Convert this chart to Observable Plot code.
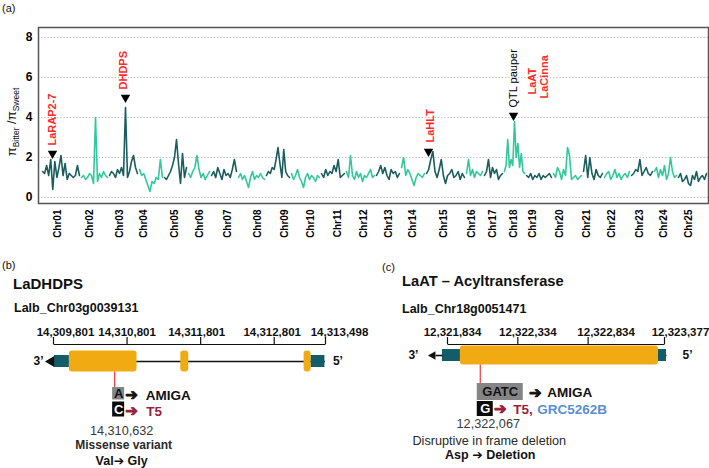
<!DOCTYPE html>
<html><head><meta charset="utf-8">
<script src="https://cdn.jsdelivr.net/npm/d3@7"></script>
<script src="https://cdn.jsdelivr.net/npm/@observablehq/plot@0.6"></script>
<style>
html,body{margin:0;padding:0;background:#fff;}
#page{position:relative;width:709px;height:468px;overflow:hidden;font-family:"Liberation Sans",Arial,Helvetica,sans-serif;color:#111;}
.abs{position:absolute;white-space:nowrap;line-height:1;}
#ylab{position:absolute;left:13px;top:122px;transform:translate(-50%,-50%) rotate(-90deg);font-size:13px;white-space:nowrap;line-height:1;}
#ylab sub{font-size:8.5px;vertical-align:-3px;}
svg{overflow:visible;}
</style></head>
<body><div id="page"></div>
<script>
// ---------------- DATA: panel (a) nucleotide-diversity ratio ----------------
const chromosomes = ["Chr01","Chr02","Chr03","Chr04","Chr05","Chr06","Chr07","Chr08","Chr09","Chr10","Chr11","Chr12","Chr13","Chr14","Chr15","Chr16","Chr17","Chr18","Chr19","Chr20","Chr21","Chr22","Chr23","Chr24","Chr25"];
const chrLengthMb = [39,28,30,25,24,23,27,28,25,30,25,30,25,25,40,18,20,22,27,30,21,27,23,24,30];
const chrTickMb = [16,48,78,102,133,158,186,216,243,269,296,322,347,371,402,430,451,472,491,518,545,570,598,622,647];
const yTicks = [0,2,4,6,8];

const ratioChr01 = [1.3,1.2,1.6,1.1,1.9,0.4,1.8,1.0,1.5,2.1,1.1,1.7,0.9,1.2,1.1,1.0,1.1,1.6,1.1];
const ratioChr02 = [1.0,1.1,0.9,1.0,1.2,1.1,0.7,4.0,0.8,1.2,1.0,1.3,1.1,1.0];
const ratioChr03 = [1.1,1.3,1.2,1.0,1.4,1.2,1.5,1.1,4.5,1.0,1.3,1.8,2.1,1.5,1.2];
const ratioChr04 = [1.4,1.1,1.2,0.9,0.6,0.3,0.8,0.7,1.0,0.9,1.9,1.0];
const ratioChr05 = [1.0,0.9,1.1,1.3,1.6,2.0,2.9,1.7,0.7,2.2,1.0,1.5];
const ratioChr06 = [1.2,1.0,1.3,1.5,2.1,1.4,1.0,1.2,0.9,1.1,1.3];
const ratioChr07 = [1.1,1.3,1.0,1.5,1.2,0.9,1.4,1.1,1.2,1.0,1.4,1.9,1.3];
const ratioChr08 = [1.0,1.2,0.9,1.1,0.8,0.5,1.0,1.3,0.9,1.1,1.0,1.2,1.0,0.9];
const ratioChr09 = [1.1,1.3,1.2,1.5,1.4,1.9,2.5,1.7,1.0,2.4,1.3,1.1,1.0];
const ratioChr10 = [1.2,0.9,1.1,1.4,1.0,0.8,0.5,1.0,1.2,0.9,1.1,1.0,0.8,1.1,1.0];
const ratioChr11 = [1.2,1.0,1.4,1.1,1.3,1.2,1.6,1.3,1.9,1.0,1.1,1.2];
const ratioChr12 = [1.3,1.0,2.1,1.1,0.9,1.3,1.0,1.2,0.8,1.1,1.0,1.2,1.4,1.0,1.1];
const ratioChr13 = [1.1,1.3,1.6,1.2,1.5,1.1,0.9,1.4,1.2,1.3,1.0,1.2];
const ratioChr14 = [1.5,2.0,1.1,1.4,1.2,0.9,0.6,1.0,1.2,1.1,1.0,1.2];
const ratioChr15 = [1.2,1.4,1.9,2.3,1.3,1.0,1.4,1.9,1.1,0.7,1.1,1.2,1.4,1.0,1.1,1.3,0.9,1.2,1.0];
const ratioChr16 = [1.2,1.9,1.1,1.4,1.0,1.3,1.2,1.1,1.3];
const ratioChr17 = [1.1,1.3,1.9,1.0,1.5,1.2,1.4,0.9,1.1,1.2];
const ratioChr18 = [1.3,1.6,2.9,1.5,1.9,1.6,3.8,2.0,2.7,1.5,2.2,1.3,1.2];
const ratioChr19 = [1.1,1.0,1.2,0.9,1.1,1.0,1.2,0.9,1.1,1.0,1.1,1.2,1.0];
const ratioChr20 = [1.2,1.0,1.5,1.3,0.9,1.4,1.1,2.5,2.1,0.9,1.0,1.1,0.9,1.0,1.1];
const ratioChr21 = [1.3,2.1,1.0,2.0,1.2,0.9,1.4,1.1,1.0,1.2];
const ratioChr22 = [1.0,1.2,1.3,0.9,1.1,1.4,1.0,1.2,0.9,1.1,1.2,1.0,1.3];
const ratioChr23 = [1.1,1.2,1.4,1.3,1.9,1.1,1.3,1.5,1.2,1.1,1.3];
const ratioChr24 = [1.3,1.5,1.0,1.4,1.1,1.6,0.9,1.2,2.0,1.3,1.0,1.1];
const ratioChr25 = [1.0,1.2,0.8,0.9,1.1,0.7,0.6,1.1,0.9,1.3,0.8,1.0,1.1,0.9,1.2];
const ratioByChr = [ratioChr01,ratioChr02,ratioChr03,ratioChr04,ratioChr05,ratioChr06,ratioChr07,ratioChr08,ratioChr09,ratioChr10,ratioChr11,ratioChr12,ratioChr13,ratioChr14,ratioChr15,ratioChr16,ratioChr17,ratioChr18,ratioChr19,ratioChr20,ratioChr21,ratioChr22,ratioChr23,ratioChr24,ratioChr25];

const annotLabel = ["LaRAP2-7","DHDPS","LaHLT","QTL pauper","LaAT","LaCinna"];
const annotChr = ["Chr01","Chr03","Chr15","Chr18","Chr18","Chr18"];
const annotOffsetMb = [11,17,3,10,10,10];
const annotPeak = [2.2,5.0,2.3,4.1,4.1,4.1];
const annotKind = ["candidate","candidate","candidate","QTL","candidate","candidate"];
const annotMarker = [true,true,true,true,false,false];

// ---------------- DATA: panel (b) LaDHDPS ----------------
const dhdpsGeneId = "Lalb_Chr03g0039131";
const dhdpsScaleTicks = [14309801,14310801,14311801,14312801,14313498];
const dhdpsFeatureType = ["UTR","CDS","CDS","CDS","UTR"];
const dhdpsFeatureStart = [14309815,14310017,14311531,14313207,14313301];
const dhdpsFeatureEnd = [14310017,14310936,14311639,14313301,14313490];
const dhdpsVariantPos = 14310632;
const dhdpsRef = "A", dhdpsAlt = "C";
const dhdpsRefLines = ["AMIGA"], dhdpsAltLines = ["T5"];
const dhdpsEffect = "Missense variant", dhdpsAA = "Val\u2794 Gly";

// ---------------- DATA: panel (c) LaAT ----------------
const laatGeneId = "Lalb_Chr18g0051471";
const laatScaleTicks = [12321834,12322334,12322834,12323377];
const laatFeatureType = ["UTR","CDS","UTR"];
const laatFeatureStart = [12321798,12321926,12323334];
const laatFeatureEnd = [12321926,12323334,12323391];
const laatVariantPos = 12322067;
const laatRef = "GATC", laatAlt = "G";
const laatRefLines = ["AMIGA"], laatAltLines = ["T5,","GRC5262B"];
const laatEffect = "Disruptive in frame deletion", laatAA = "Asp \u2794 Deletion";

// ---------------- STYLE ----------------
const FONT = '"Liberation Sans", Arial, Helvetica, "DejaVu Sans", sans-serif';
const DARK = "#1b5d5f", LIGHT = "#31c99c";
const TEAL = "#125d68", ORANGE = "#f2aa12", MAROON = "#9c1d3c", BLUE = "#5b8fd3", RED = "#ff2a2a";

const page = document.getElementById("page");
function place(node, left, top) {
  node.style.position = "absolute"; node.style.left = left + "px"; node.style.top = top + "px";
  page.appendChild(node);
}
function label(text, left, top, css) {
  const d = document.createElement("div");
  d.className = "abs"; d.textContent = text; d.style.cssText += css;
  place(d, left, top);
}

// ---------------- Panel (a) ----------------
const starts = []; { let acc = 0; for (const L of chrLengthMb) { starts.push(acc); acc += L; } }
const chrStart = new Map(chromosomes.map((c, i) => [c, starts[i]]));
const windows = ratioByChr.flatMap((vals, i) => vals.map((r, j) => ({
  chr: chromosomes[i], group: i % 2 === 0 ? "odd" : "even",
  pos: starts[i] + (j + 0.5) * chrLengthMb[i] / vals.length, ratio: r
})));
const annots = annotLabel.map((l, i) => ({label: l, pos: chrStart.get(annotChr[i]) + annotOffsetMb[i], peak: annotPeak[i], kind: annotKind[i], marker: annotMarker[i]}));
const labelDx = [0, -2, 2, 0, 19, 31];
const labelDy = [-8, -8, -9, -8, -21, -17];
const tickName = new Map(chrTickMb.map((t, i) => [t, chromosomes[i]]));

const plotA = Plot.plot({
  width: 709, height: 245,
  marginLeft: 38, marginRight: 1, marginTop: 27, marginBottom: 42,
  x: {domain: [-3, 667]},
  y: {domain: [-0.3, 8.5]},
  color: {domain: ["odd", "even"], range: [DARK, LIGHT]},
  style: {fontFamily: FONT, fontSize: "11px", background: "#fff", color: "#000"},
  marks: [
    Plot.gridY(yTicks, {stroke: "#9a9a9a", strokeOpacity: 0.9, strokeDasharray: "1.2,2", strokeWidth: 0.8}),
    Plot.line(windows, {x: "pos", y: "ratio", z: "chr", stroke: "group", strokeWidth: 1.6}),
    Plot.axisY(yTicks, {anchor: "left", tickSize: 0, tickPadding: 6, fontSize: 12, fontWeight: "bold", label: null}),
    Plot.axisX(chrTickMb, {anchor: "bottom", tickSize: 0, tickPadding: 6, tickRotate: -90, fontSize: 10, fontWeight: "bold", tickFormat: d => tickName.get(d), label: null}),
    Plot.frame({stroke: "#555", strokeWidth: 1.5}),
    Plot.dot(annots.filter(a => a.marker), {x: "pos", y: "peak", symbol: "triangle", rotate: 180, r: 3.5, fill: "#000"}),
    ...annots.map((a, i) => Plot.text([a], {
      x: "pos", y: "peak", text: "label", rotate: -90, textAnchor: "start",
      dx: labelDx[i], dy: labelDy[i], fontSize: 11,
      fontWeight: a.kind === "QTL" ? "normal" : "bold",
      fill: a.kind === "QTL" ? "#000" : RED
    }))
  ]
});
place(plotA, 0, 0);

const ylab = document.createElement("div");
ylab.id = "ylab";
ylab.innerHTML = "\u03c0<sub>Bitter</sub> /\u03c0<sub>Sweet</sub>";
page.appendChild(ylab);
label("(a)", 2, 3, "font-size:11px;");

// ---------------- Gene panels (b) and (c) ----------------
function genePanel(g, L) {
  const dom = [g.ticks[0], g.ticks[g.ticks.length - 1]];
  const pxPerBp = (L.range[1] - L.range[0]) / (dom[1] - dom[0]);
  const off = px => px / pxPerBp; // screen offset (px) expressed in bp
  const feats = g.type.map((t, i) => ({type: t, start: g.start[i], end: g.end[i]}));
  const gStart = d3.min(g.start), gEnd = d3.max(g.end);
  const v = g.variant;
  const fmt = d3.format(",");
  const gy = L.geneY;
  const marks = [
    // coordinate bracket
    Plot.link([0], {x1: () => dom[0], x2: () => dom[1], y1: L.bracketY, y2: L.bracketY, stroke: "#111", strokeWidth: 1.2}),
    Plot.ruleX(g.ticks, {x: d => d, y1: L.bracketY - 7, y2: L.bracketY, stroke: "#111", strokeWidth: 1.2}),
    ...g.ticks.map((t, i) => Plot.text([t], {x: d => d, y: L.numY, text: d => fmt(d), dx: L.numDx[i], fontSize: 11.5, fontWeight: "bold", fill: "#111"})),
    // intron backbone
    Plot.link([0], {x1: () => gStart, x2: () => gEnd, y1: gy, y2: gy, stroke: "#111", strokeWidth: 1.4}),
    // UTRs and exons
    Plot.rect(feats.filter(f => f.type === "UTR"), {x1: "start", x2: "end", y1: gy - L.utrH, y2: gy + L.utrH, fill: TEAL}),
    Plot.rect(feats.filter(f => f.type === "CDS"), {x1: "start", x2: "end", y1: gy - L.cdsH, y2: gy + L.cdsH, fill: ORANGE, rx: 3}),
    // 3' arrow
    ...(L.shaftPx ? [Plot.link([0], {x1: () => gStart - off(L.shaftPx), x2: () => gStart, y1: gy, y2: gy, stroke: "#111", strokeWidth: 1.6})] : []),
    Plot.dot([gStart], {x: d => d, y: gy, symbol: "triangle", rotate: -90, r: L.headR, dx: L.headDx, fill: "#111"}),
    Plot.text([gStart], {x: d => d, y: gy, text: () => "3\u2019", textAnchor: "end", dx: L.end3Dx, fontSize: 12, fontWeight: "bold", fill: "#111"}),
    Plot.text([gEnd], {x: d => d, y: gy, text: () => "5\u2019", textAnchor: "start", dx: L.end5Dx, fontSize: 12, fontWeight: "bold", fill: "#111"}),
    // variant
    Plot.ruleX([v], {x: d => d, y1: gy + L.cdsH, y2: L.refBox[0], stroke: "#f23b3b", strokeWidth: 1.2}),
    Plot.rect([v], {x1: d => d + off(L.refBoxX[0]), x2: d => d + off(L.refBoxX[1]), y1: L.refBox[0], y2: L.refBox[1], fill: "#858585"}),
    Plot.rect([v], {x1: d => d + off(L.altBoxX[0]), x2: d => d + off(L.altBoxX[1]), y1: L.altBox[0], y2: L.altBox[1], fill: "#0a0a0a"}),
    Plot.text([v], {x: d => d, y: (L.refBox[0] + L.refBox[1]) / 2, text: () => g.ref, dx: L.refTextDx, fontSize: 13, fontWeight: "bold", fill: "#111"}),
    Plot.text([v], {x: d => d, y: (L.altBox[0] + L.altBox[1]) / 2, text: () => g.alt, dx: L.altTextDx, fontSize: 13, fontWeight: "bold", fill: "#fff"}),
    Plot.text([v], {x: d => d, y: L.refY, text: () => "\u2794", dx: L.refArrowDx, fontSize: 15, fontWeight: "bold", fill: "#111", stroke: "#111", strokeWidth: 0.9}),
    Plot.text([v], {x: d => d, y: L.altY, text: () => "\u2794", dx: L.altArrowDx, fontSize: 15, fontWeight: "bold", fill: MAROON, stroke: MAROON, strokeWidth: 0.9}),
    ...g.refLines.map((s, i) => Plot.text([v], {x: d => d, y: L.refY, text: () => s, textAnchor: "start", dx: L.refLineDx[i], fontSize: 13.5, fontWeight: "bold", fill: "#111"})),
    ...g.altLines.map((s, i) => Plot.text([v], {x: d => d, y: L.altY, text: () => s, textAnchor: "start", dx: L.altLineDx[i], fontSize: 13.5, fontWeight: "bold", fill: i === 0 ? MAROON : BLUE})),
    Plot.text([v], {x: d => d, y: L.posY, text: d => fmt(d), dx: L.posDx, fontSize: 12.7, fill: "#3a3a3a"}),
    Plot.text([v], {x: d => d, y: L.effY, text: () => g.effect, dx: L.effDx, fontSize: L.effSize, fontWeight: L.effWeight, fill: "#2a2a2a"}),
    Plot.text([v], {x: d => d, y: L.aaY, text: () => g.aa, dx: L.aaDx, fontSize: 12.5, fontWeight: "bold", fill: "#111"})
  ];
  return Plot.plot({
    width: L.width, height: 150, margin: 0,
    x: {domain: dom, range: L.range, axis: null},
    y: {type: "identity", axis: null},
    style: {fontFamily: FONT, background: "transparent"},
    marks
  });
}

const plotB = genePanel(
  {ticks: dhdpsScaleTicks, type: dhdpsFeatureType, start: dhdpsFeatureStart, end: dhdpsFeatureEnd, variant: dhdpsVariantPos,
   ref: dhdpsRef, alt: dhdpsAlt, refLines: dhdpsRefLines, altLines: dhdpsAltLines, effect: dhdpsEffect, aa: dhdpsAA},
  {width: 354, range: [53, 325], numY: 14, numDx: [12, 0, -4, -2, 14], bracketY: 26,
   geneY: 43, utrH: 6, cdsH: 10.5, shaftPx: 0, headR: 4, headDx: -3.4, end3Dx: -11, end5Dx: 8,
   refBox: [69, 81.5], altBox: [83.5, 98.5], refBoxX: [-2, 10], altBoxX: [-2, 10],
   refTextDx: 4, altTextDx: 4, refY: 77, altY: 93, refArrowDx: 17, altArrowDx: 17,
   refLineDx: [31], altLineDx: [31.5],
   posY: 112, posDx: 7, effY: 126.5, effDx: 9, effSize: 12, effWeight: "bold", aaY: 142, aaDx: 7});
place(plotB, 0, 318);

const plotC = genePanel(
  {ticks: laatScaleTicks, type: laatFeatureType, start: laatFeatureStart, end: laatFeatureEnd, variant: laatVariantPos,
   ref: laatRef, alt: laatAlt, refLines: laatRefLines, altLines: laatAltLines, effect: laatEffect, aa: laatAA},
  {width: 355, range: [93, 310], numY: 14, numDx: [5, 10, 18, 16], bracketY: 26,
   geneY: 37, utrH: 6, cdsH: 9.5, shaftPx: 7, headR: 3.2, headDx: -9.5, end3Dx: -24, end5Dx: 16,
   refBox: [65, 82], altBox: [83, 98], refBoxX: [-3, 43], altBoxX: [-3, 13],
   refTextDx: 20, altTextDx: 5, refY: 74.5, altY: 91, refArrowDx: 55, altArrowDx: 20,
   refLineDx: [67], altLineDx: [33, 57],
   posY: 105.5, posDx: 8, effY: 122, effDx: 9, effSize: 12.7, effWeight: "normal", aaY: 136, aaDx: 10});
place(plotC, 354, 318);

// titles
label("(b)", 2, 260, "font-size:11px;");
label("LaDHDPS", 13, 276, "font-size:15px;font-weight:bold;");
label(dhdpsGeneId, 14, 302, "font-size:12.5px;font-weight:bold;");
label("(c)", 382, 261.5, "font-size:11px;");
label("LaAT \u2013 Acyltransferase", 402, 273.5, "font-size:14.7px;font-weight:bold;");
label(laatGeneId, 402, 303, "font-size:12.5px;font-weight:bold;");
</script>
</body></html>
